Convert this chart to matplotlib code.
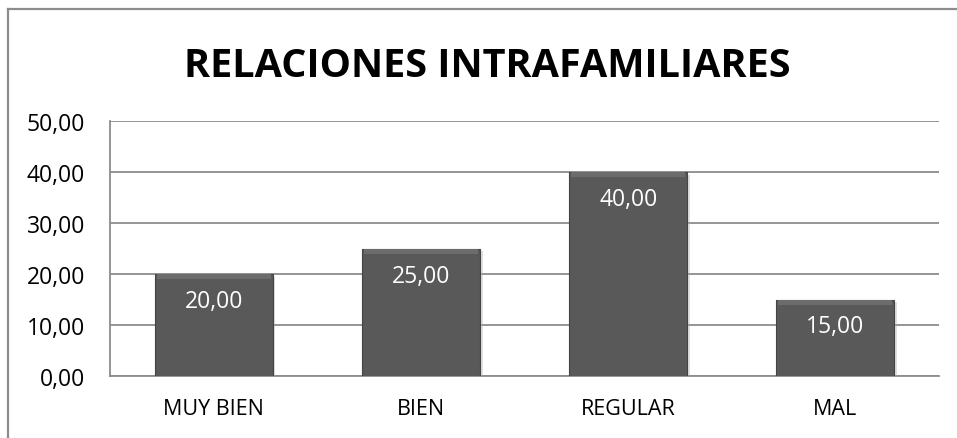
import numpy as np
import matplotlib
matplotlib.use("Agg")
import matplotlib.pyplot as plt
import matplotlib.patheffects as pe
from matplotlib.lines import Line2D

categories = ["MUY BIEN", "BIEN", "REGULAR", "MAL"]
values = [20.0, 25.0, 40.0, 15.0]
yticks = [0, 10, 20, 30, 40, 50]

plt.rcParams['font.family'] = ['Open Sans', 'DejaVu Sans']

fig = plt.figure(figsize=(9.57, 4.39), dpi=100)
ax = fig.add_axes([110/957, 62/439, 829/957, 255/439])

x = np.arange(len(categories))
grid_col = '#8c8c8c'

# base bars with soft drop shadow
bars = ax.bar(x, values, width=0.57, color='#595959', edgecolor='#444444',
              linewidth=0.8, zorder=3)
for b in bars:
    b.set_path_effects([pe.SimplePatchShadow(offset=(2, -2), shadow_rgbFace='#b0b0b0', alpha=0.4),
                        pe.Normal()])

# lighter top bevel strip
bevel = 1.0
ax.bar(x, [bevel] * len(values), bottom=np.array(values) - bevel, width=0.55,
       color='#6c6c6c', linewidth=0, zorder=4)

for xi, v in zip(x, values):
    ax.annotate(f"{v:.2f}".replace('.', ','), (xi, v), xytext=(0, -27),
                textcoords='offset pixels', ha='center', va='center',
                color='white', fontsize=16.5, zorder=5)

ax.set_ylim(0, 50)
ax.set_xlim(-0.5, len(categories) - 0.5)
ax.set_yticks(yticks)
ax.set_yticklabels([f"{t:.2f}".replace('.', ',') for t in yticks])
ax.set_xticks(x)
ax.set_xticklabels(categories)
ax.tick_params(axis='y', length=0, pad=18, labelsize=16.5)
ax.tick_params(axis='x', length=0, pad=16, labelsize=15.5)
ax.grid(axis='y', color=grid_col, linewidth=1.3, zorder=0)
ax.set_axisbelow(True)
for s in ['top', 'right']:
    ax.spines[s].set_visible(False)
for s in ['left', 'bottom']:
    ax.spines[s].set_color(grid_col)
    ax.spines[s].set_linewidth(1.3)

fig.text(487/957, 1 - 77/439, "RELACIONES INTRAFAMILIARES", ha='center', va='baseline',
         fontsize=28.5, fontweight='bold')

# chart frame (top and left visible)
fig.add_artist(Line2D([8/957, 1], [1 - 10/439, 1 - 10/439], color=grid_col, lw=1.6))
fig.add_artist(Line2D([8/957, 8/957], [0, 1 - 10/439], color=grid_col, lw=1.6))

fig.savefig("out.png", dpi=100)
